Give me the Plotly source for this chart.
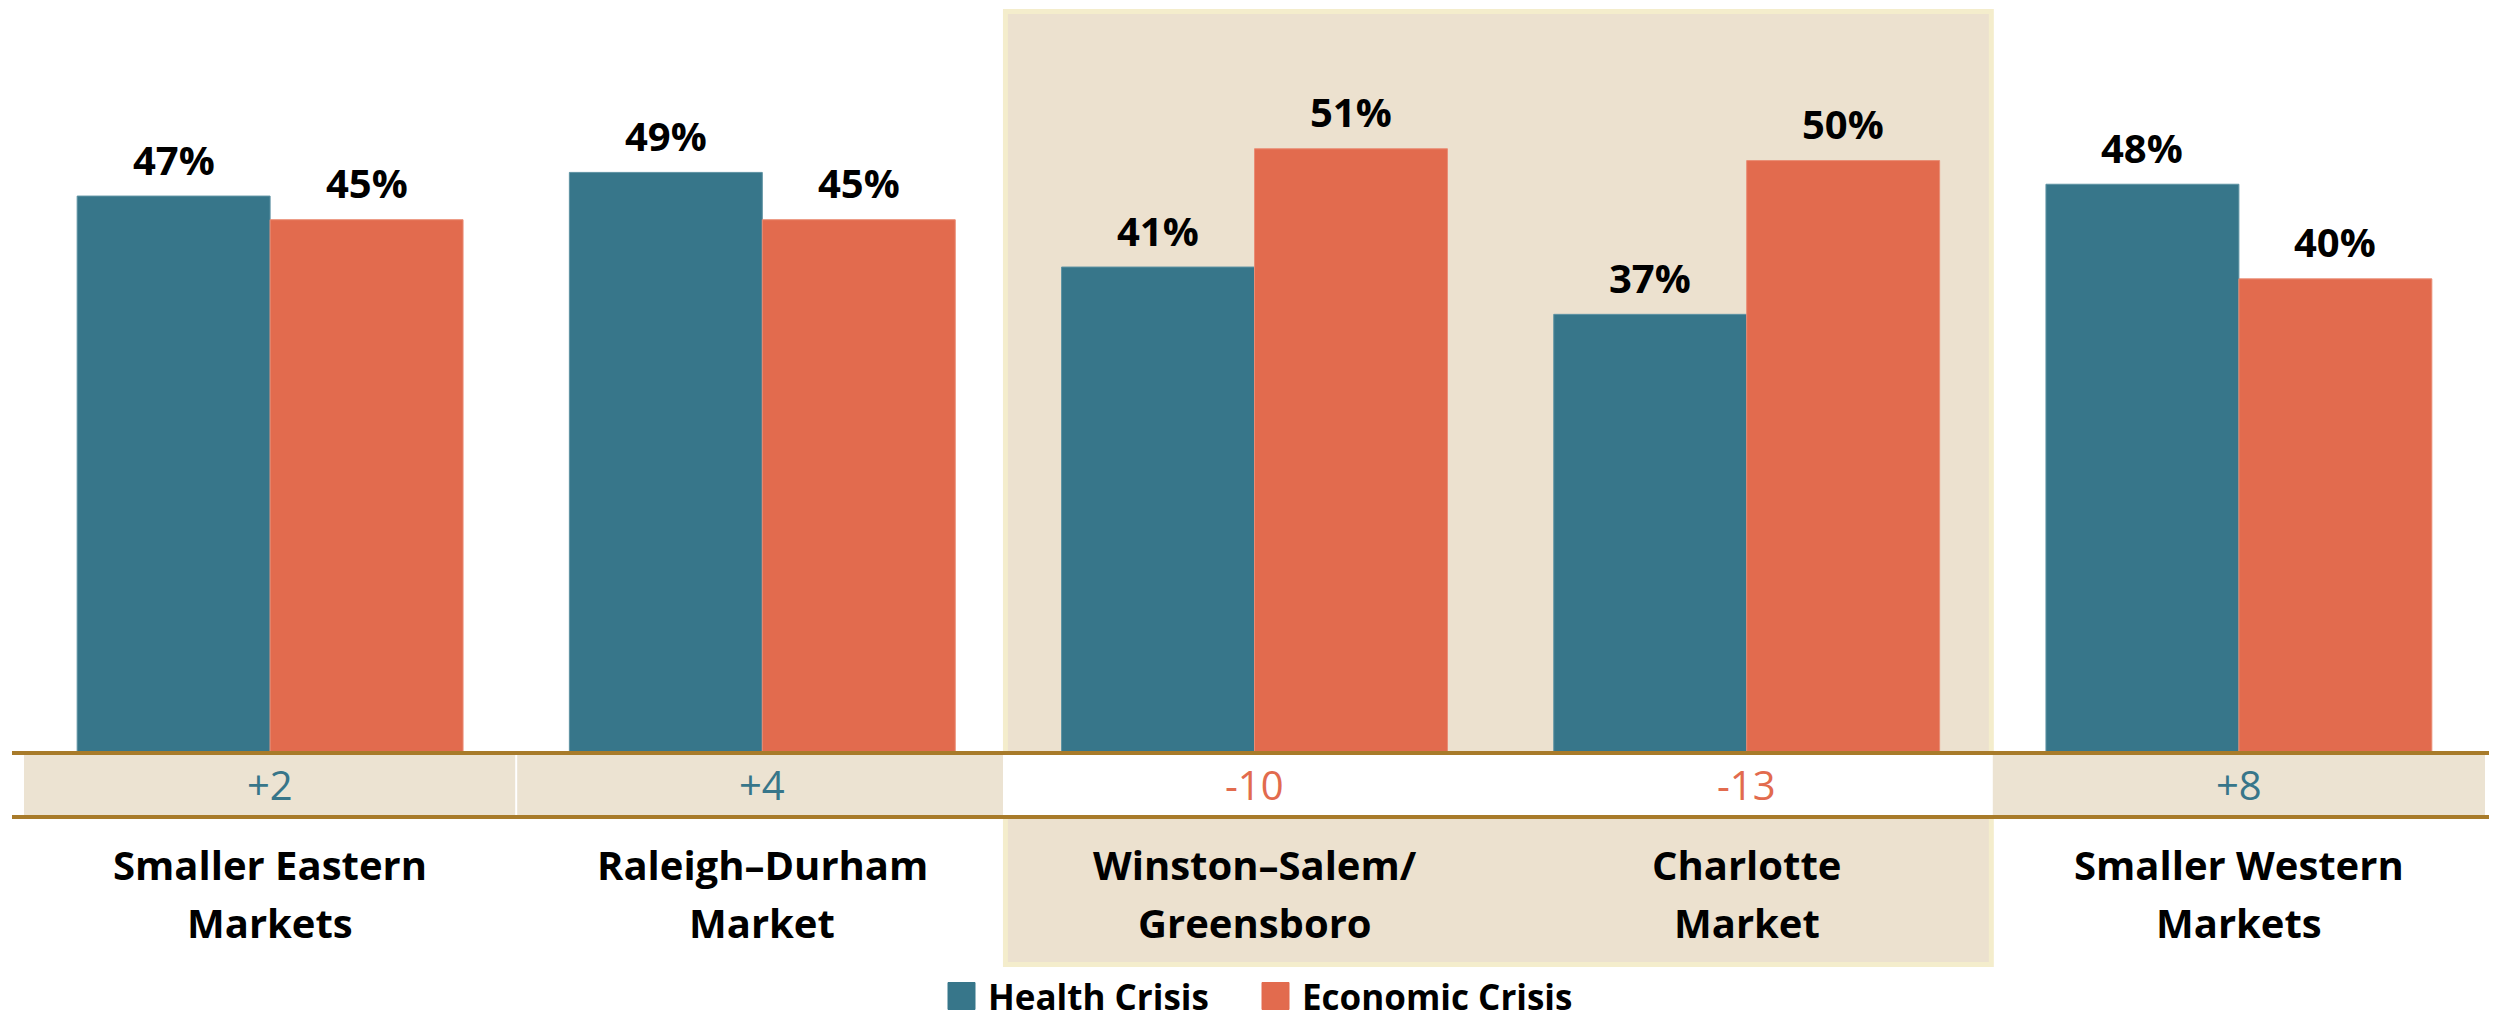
import plotly.graph_objects as go

categories = ["Smaller Eastern<br>Markets", "Raleigh–Durham<br>Market", "Winston–Salem/<br>Greensboro",
              "Charlotte<br>Market", "Smaller Western<br>Markets"]
health = [47, 49, 41, 37, 48]
economic = [45, 45, 51, 50, 40]
diff_labels = ["+2", "+4", "-10", "-13", "+8"]
highlighted = [False, False, True, True, False]
series_names = ["Health Crisis", "Economic Crisis"]

TEAL = "#37768A"
ORANGE = "#E26B4E"
BEIGE = "#ECE3D2"
BOX = "#ECE1CF"
BOX_LINE = "#F4EDCC"
GOLD = "#A87B2A"
FONT = "Open Sans"

W, H = 2497, 1021
OFF = 8  # page body margin offset
ML, MR, MT, MB = 16, 20, 0, 277
PH = H - MT - MB

idx = list(range(len(categories)))

fig = go.Figure()
fig.add_trace(go.Bar(x=idx, y=health, name=series_names[0], showlegend=False,
                     marker=dict(color=TEAL, line=dict(width=1, color="#5E93A3"))))
fig.add_trace(go.Bar(x=idx, y=economic, name=series_names[1], showlegend=False,
                     marker=dict(color=ORANGE, line=dict(width=1, color="#EA8C74"))))

shapes = []
annotations = []


def py(px):  # screen pixel row -> paper y
    return (H - MB - (px - OFF)) / PH


def pxx(px):  # screen pixel column -> paper x
    return (px - OFF - ML) / (W - ML - MR)


# highlight box behind the highlighted categories
hi = [i for i in idx if highlighted[i]]
shapes.append(dict(type="rect", xref="x", yref="paper", x0=min(hi) - 0.506, x1=max(hi) + 0.497,
                   y0=py(964.5), y1=py(11.5), fillcolor=BOX, line=dict(color=BOX_LINE, width=5), layer="below"))

# difference band
BAND_TOP, BAND_BOT = py(753), py(817)
for i in idx:
    x0 = i - 0.5 if i > 0 else -0.525
    x1 = i + 0.5 if i < len(idx) - 1 else 4.51
    if highlighted[i]:
        if i == 0 or not highlighted[i - 1]:
            x0 = i - 0.511
        if i == len(idx) - 1 or not highlighted[i + 1]:
            x1 = i + 0.502
        else:
            x1 = i + 0.52  # overlap the next white cell to avoid a seam
    fill = "white" if highlighted[i] else BEIGE
    shapes.append(dict(type="rect", xref="x", yref="paper", x0=x0, x1=x1, y0=BAND_BOT, y1=BAND_TOP,
                       fillcolor=fill, line=dict(width=0), layer="above"))
for i in idx[1:]:
    if not highlighted[i] and not highlighted[i - 1]:
        shapes.append(dict(type="line", xref="x", yref="paper", x0=i - 0.5, x1=i - 0.5, y0=BAND_BOT, y1=BAND_TOP,
                           line=dict(color="white", width=2), layer="above"))
for yy in (BAND_TOP, BAND_BOT):
    shapes.append(dict(type="line", xref="paper", yref="paper", x0=pxx(12), x1=pxx(2490), y0=yy, y1=yy,
                       line=dict(color=GOLD, width=4), layer="above"))

for i in idx:
    d = diff_labels[i]
    annotations.append(dict(x=i, xref="x", y=py(784), yref="paper", text=d, showarrow=False,
                            font=dict(family=FONT, size=40, color=ORANGE if d.startswith("-") else TEAL),
                            xanchor="center", yanchor="middle"))
    for j, line in enumerate(categories[i].split("<br>")):
        annotations.append(dict(x=i, xref="x", y=py(864 + j * 59), yref="paper", text="<b>" + line + "</b>",
                                showarrow=False, font=dict(family=FONT, size=40, color="black"),
                                xanchor="center", yanchor="middle"))
    for vals, off in ((health, -0.196), (economic, 0.196)):
        annotations.append(dict(x=i + off, xref="x", y=vals[i], yref="y", text="<b>%d%%</b>" % vals[i],
                                showarrow=False, font=dict(family=FONT, size=40, color="black"),
                                xanchor="center", yanchor="middle", yshift=37))

# legend (drawn so the swatches match the reference size)
LEG_Y = 996
legend_items = [(series_names[0], TEAL, 948), (series_names[1], ORANGE, 1262)]
for name, col, x_px in legend_items:
    shapes.append(dict(type="rect", xref="paper", yref="paper", x0=pxx(x_px), x1=pxx(x_px + 27),
                       y0=py(LEG_Y + 13.5), y1=py(LEG_Y - 13.5), fillcolor=col, line=dict(width=1, color=col),
                       layer="above"))
    annotations.append(dict(x=pxx(x_px + 38), xref="paper", y=py(LEG_Y), yref="paper", text="<b>" + name + "</b>",
                            showarrow=False, xanchor="left", yanchor="middle",
                            font=dict(family=FONT, size=35, color="black")))

fig.update_layout(
    width=W, height=H,
    margin=dict(l=ML, r=MR, t=MT, b=MB, autoexpand=False),
    paper_bgcolor="white", plot_bgcolor="rgba(0,0,0,0)",
    barmode="group", bargap=0.216, bargroupgap=0,
    xaxis=dict(range=[-0.5, 4.5], showticklabels=False, showgrid=False, zeroline=False, showline=False, ticks=""),
    yaxis=dict(range=[0, 62.9], visible=False),
    shapes=shapes, annotations=annotations,
    showlegend=False,
)
fig.write_html("out.html")
